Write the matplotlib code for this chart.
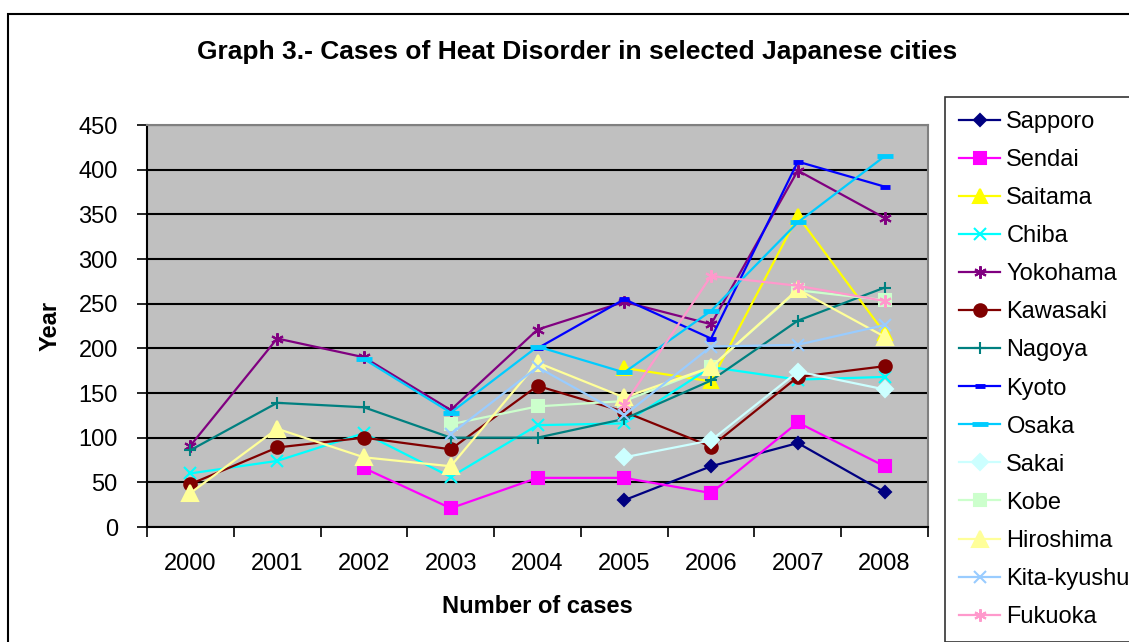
import numpy as np
import matplotlib
matplotlib.use("Agg")
import matplotlib.pyplot as plt
from matplotlib.patches import Rectangle

plt.rcParams['font.family'] = ['Liberation Sans', 'DejaVu Sans']

nan = np.nan
years = ["2000", "2001", "2002", "2003", "2004", "2005", "2006", "2007", "2008"]

sapporo = [nan, nan, nan, nan, nan, 30, 68, 94, 39]
sendai = [nan, nan, 66, 21, 55, 55, 38, 117, 68]
saitama = [nan, nan, nan, nan, nan, 178, 163, 348, 217]
chiba = [60, 74, 105, 56, 114, 116, 179, 165, 168]
yokohama = [91, 211, 190, 131, 221, 252, 227, 399, 346]
kawasaki = [48, 89, 100, 87, 158, 129, 90, 168, 180]
nagoya = [86, 139, 134, 100, 100, 121, 164, 231, 268]
kyoto = [nan, nan, nan, nan, 200, 255, 211, 409, 381]
osaka = [nan, nan, 188, 128, 202, 173, 242, 341, 415]
sakai = [nan, nan, nan, nan, nan, 78, 97, 174, 154]
kobe = [nan, nan, nan, 115, 135, 141, 179, 265, 254]
hiroshima = [38, 110, 78, 68, 184, 145, 179, 266, 213]
kita_kyushu = [nan, nan, nan, 104, 179, 125, 202, 204, 226]
fukuoka = [nan, nan, nan, nan, nan, 137, 281, 270, 253]

series = [
    ("Sapporo", sapporo, "#000080", "D", 6),
    ("Sendai", sendai, "#FF00FF", "s", 8),
    ("Saitama", saitama, "#FFFF00", "^", 10),
    ("Chiba", chiba, "#00FFFF", "x", 8),
    ("Yokohama", yokohama, "#800080", (6, 2, 0), 9),
    ("Kawasaki", kawasaki, "#800000", "o", 9),
    ("Nagoya", nagoya, "#008080", "+", 9),
    ("Kyoto", kyoto, "#0000FF", "_", 7),
    ("Osaka", osaka, "#00CCFF", "_", 11),
    ("Sakai", sakai, "#CCFFFF", "D", 8),
    ("Kobe", kobe, "#CCFFCC", "s", 9),
    ("Hiroshima", hiroshima, "#FFFF99", "^", 11),
    ("Kita-kyushu", kita_kyushu, "#99CCFF", "x", 8),
    ("Fukuoka", fukuoka, "#FF99CC", (6, 2, 0), 9),
]

fig = plt.figure(figsize=(11.29, 6.42), dpi=100)
ax = fig.add_axes([147 / 1129, 1 - 527 / 642, (928 - 147) / 1129, (527 - 125) / 642])
ax.set_facecolor("#C0C0C0")

x = np.arange(len(years))
for name, vals, color, marker, ms in series:
    mew = 3.5 if marker == "_" else 1.5
    ax.plot(x, vals, color=color, marker=marker, markersize=ms, lw=1.6,
            markeredgewidth=mew, markerfacecolor=color, markeredgecolor=color,
            label=name, zorder=3)

ax.set_ylim(0, 450)
ax.set_yticks(range(0, 451, 50))
ax.yaxis.grid(True, color="black", lw=1.5)
ax.set_axisbelow(True)
ax.set_xlim(-0.5, len(years) - 0.5)
ax.set_xticks(np.arange(-0.5, len(years)), [""] * (len(years) + 1))
ax.set_xticks(x, years, minor=True)
ax.tick_params(axis="x", which="major", length=7, width=1.2, direction="out")
ax.tick_params(axis="x", which="minor", length=0, pad=19, labelsize=17)
ax.tick_params(axis="y", length=7, width=1.2, labelsize=17, pad=14)

for side in ("left", "bottom"):
    ax.spines[side].set_color("black")
    ax.spines[side].set_linewidth(1.5)
for side in ("top", "right"):
    ax.spines[side].set_color("#808080")
    ax.spines[side].set_linewidth(1.5)

ax.set_ylabel("Year", fontsize=17, fontweight="bold", labelpad=12)
ax.set_xlabel("Number of cases", fontsize=17, fontweight="bold", labelpad=14)
fig.text(577 / 1129, 1 - 52 / 642, "Graph 3.- Cases of Heat Disorder in selected Japanese cities",
         ha="center", va="center", fontsize=19, fontweight="bold")

# legend runs off the right edge, same as the original
leg = ax.legend(loc="upper left", bbox_to_anchor=(945 / 1129, 1 - 97 / 642),
                bbox_transform=fig.transFigure, fontsize=17, frameon=True,
                fancybox=False, borderaxespad=0, labelspacing=0.68,
                handlelength=1.75, handletextpad=0.25, borderpad=0.6)
leg.get_frame().set_edgecolor("black")
leg.get_frame().set_linewidth(1.2)

fig.patches.append(Rectangle((8 / 1129, -0.1), 1.1, 1 - 14 / 642 + 0.1,
                             transform=fig.transFigure, fill=False,
                             edgecolor="black", lw=1.5))

fig.savefig("out.png", dpi=100)
